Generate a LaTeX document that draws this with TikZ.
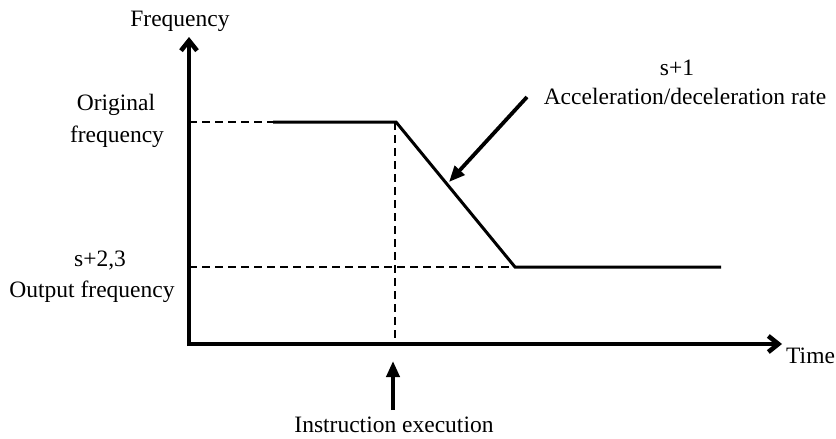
\documentclass[tikz,border=0pt]{standalone}
\usepackage{fontspec}
\setmainfont{Liberation Serif}
\usetikzlibrary{arrows.meta}
\begin{document}
\begin{tikzpicture}[x=1pt,y=-1pt,
  lbl/.style={inner sep=0pt, anchor=base, font=\fontsize{23.5}{28}\selectfont},
  axisline/.style={line width=3.2pt, line cap=butt,
    -{Straight Barb[length=10pt,width=16pt,line width=4.6pt]}},
  curve/.style={line width=3pt, line join=miter},
  guide/.style={line width=2.3pt, dash pattern=on 8pt off 5pt},
  pointer/.style={line width=3.8pt, -{Triangle[length=16pt,width=13pt]}}]
\useasboundingbox (0,0) rectangle (836,439);

% axes
\coordinate (O) at (189,344);
\coordinate (ytip) at (189,37);
\coordinate (xtip) at (782,344);
\draw[axisline] (O |- 0,346) -- (ytip);
\draw[axisline] (O) -- (xtip);

% frequency profile
\coordinate (f0) at (189,122);
\coordinate (s0) at (273,122);
\coordinate (c1) at (396,122);
\coordinate (c2) at (515,267);
\coordinate (e2) at (721,267);
\coordinate (f1) at (189,267);
\coordinate (v0) at (395,122);
\coordinate (v1) at (395,344);

\draw[guide] (f0) -- (s0);
\draw[guide] (f1) -- (c2);
\draw[guide] (v0) -- (v1);
\draw[curve] (s0) -- (c1) -- (c2) -- (e2);

% labels
\node[lbl] (ylabel) at (180,27) {Frequency};
\node[lbl] (orig1) at (116,110) {Original};
\node[lbl] (orig2) at (117,142) {frequency};
\node[lbl] (out1) at (100,266) {s+2,3};
\node[lbl] (out2) at (92,297) {Output frequency};
\node[lbl] (rate1) at (677,75) {s+1};
\node[lbl] (rate2) at (685,104) {Acceleration/deceleration rate};
\node[lbl, anchor=base west] (xlabel) at (786,363) {Time};
\node[lbl] (instr) at (394,432) {Instruction execution};

% pointers
\coordinate (r0) at (527,97);
\coordinate (r1) at (449,182);
\draw[pointer] (r0) -- (r1);
\coordinate (i0) at (393,410);
\coordinate (i1) at (393,361);
\draw[pointer] (i0) -- (i1);
\end{tikzpicture}
\end{document}
